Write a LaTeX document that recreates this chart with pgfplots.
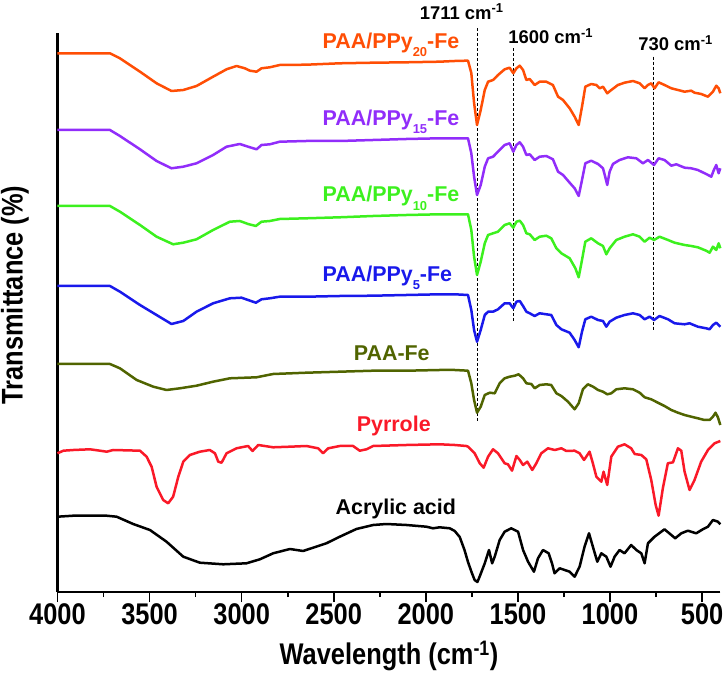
\documentclass[border=0pt]{standalone}
\usepackage{fontspec}
\setmainfont{Liberation Sans}
\newfontfamily\axfont[FakeStretch=0.85]{Liberation Sans}
\usepackage{pgfplots}
\pgfplotsset{compat=1.18}
\definecolor{cOr}{RGB}{255,78,5}
\definecolor{cPu}{RGB}{145,45,250}
\definecolor{cGr}{RGB}{60,240,30}
\definecolor{cBl}{RGB}{25,25,235}
\definecolor{cOl}{RGB}{80,100,0}
\definecolor{cRe}{RGB}{250,25,40}
\newcommand\tickfont{\axfont\bfseries\fontsize{30}{31}\selectfont}
\newcommand\lblfont{\bfseries\fontsize{21.5}{23}\selectfont}
\newcommand\annfont{\bfseries\fontsize{18.5}{20}\selectfont}
\newcommand\lsub[1]{\raisebox{-8.5bp}{\fontsize{13}{13}\selectfont #1}}
\begin{document}
\begin{tikzpicture}
\path[use as bounding box] (0,0) rectangle (727bp,676bp);
\begin{axis}[
  at={(57.5bp,84bp)}, anchor=south west,
  scale only axis, width=663bp, height=559bp,
  xmin=400, xmax=4000, ymin=0, ymax=559,
  x dir=reverse,
  axis x line=bottom, axis y line=none,
  x axis line style={-, line width=2.4bp},
  xtick={500,1000,...,4000},
  xticklabels={},
  minor xtick={750,1250,...,3750},
  ytick=\empty,
  tick align=outside,
  major tick length=10bp, minor tick length=5bp,
  every tick/.style={black, line width=1.6bp},
  clip=false,
  every axis plot/.append style={line width=2.5bp, line join=round},
]
\draw[line width=2.4bp] (axis description cs:0,0) -- (axis description cs:0,1);
\node[rotate=90, font=\tickfont] at (axis cs:4231,297) {Transmittance (\%)};
% x tick labels and x label
\node[anchor=north, inner sep=0pt, font=\tickfont] at (axis cs:500,-11) {500};
\node[anchor=north, inner sep=0pt, font=\tickfont] at (axis cs:1000,-11) {1000};
\node[anchor=north, inner sep=0pt, font=\tickfont] at (axis cs:1500,-11) {1500};
\node[anchor=north, inner sep=0pt, font=\tickfont] at (axis cs:2000,-11) {2000};
\node[anchor=north, inner sep=0pt, font=\tickfont] at (axis cs:2500,-11) {2500};
\node[anchor=north, inner sep=0pt, font=\tickfont] at (axis cs:3000,-11) {3000};
\node[anchor=north, inner sep=0pt, font=\tickfont] at (axis cs:3500,-11) {3500};
\node[anchor=north, inner sep=0pt, font=\tickfont] at (axis cs:4000,-11) {4000};
\node[anchor=north, inner sep=0pt, font=\tickfont] at (axis cs:2200,-49) {Wavelength (cm\textsuperscript{-1})};

% dashed guide lines
\addplot[black, line width=0.8bp, dash pattern=on 3bp off 2bp] coordinates {(1722,563.7) (1722,170.3)};
\addplot[black, line width=0.8bp, dash pattern=on 3bp off 2bp] coordinates {(1525,543.7) (1525,270.3)};
\addplot[black, line width=0.8bp, dash pattern=on 3bp off 2bp] coordinates {(762,535.3) (762,262)};

% PAA/PPy20-Fe
\addplot[cOr] coordinates {
(4000,538.7)(3715,538.7)(3661,533.7)(3552,520.3)(3462,508.7)(3381,501)(3317,502)(3245,506)(3155,515.3)(3082,522.7)(3028,526)(2983,523.7)(2955,521.3)(2919,520.3)(2892,523.7)(2847,524.7)(2793,527)(2648,527.3)(2467,528.7)(2286,529.3)(2105,529.7)(1925,530.3)(1843,531)(1780,531.3)(1771,531.3)
(1753,519)(1738,489)(1722,467)(1702,482)(1680,502)(1662,510.3)(1635,512)(1608,517)(1572,522.7)(1545,524.3)(1525,518.7)(1508,523.7)(1490,526.3)(1472,522)(1454,512)(1436,513)(1409,507)(1382,510.3)(1346,510.3)(1310,507)(1282,495.3)(1255,492)(1219,483.7)(1192,475.3)(1170,467)(1152,485.3)(1134,505.3)(1102,508)(1074,507)(1056,503.7)(1038,505.3)(1015,498.7)(993,502)(957,507)(921,509.3)(875,511)(839,508.7)(812,503.7)(794,507)(776,508.7)(758,503.7)(736,509.7)(704,507)(667,503.7)(631,502)(595,500.3)(559,501.3)(541,499.3)(505,498)(468,495.3)(441,500.3)(423,506.3)(410,503.7)(401,498.7)};

% PAA/PPy15-Fe
\addplot[cPu] coordinates {
(4000,462)(3715,462)(3661,456)(3552,442.7)(3462,431)(3381,423.7)(3317,425.3)(3245,428.7)(3155,437)(3082,445.3)(3010,448)(2965,445.3)(2919,442.7)(2892,447)(2847,447.7)(2793,450.3)(2648,451)(2467,451)(2286,452)(2105,453)(1925,453.7)(1843,453.7)(1771,453.7)
(1753,438.7)(1738,415.3)(1722,397)(1702,407)(1680,425.3)(1662,433.7)(1635,435.3)(1608,440.3)(1572,447)(1545,448.7)(1525,440.3)(1508,447)(1490,449.7)(1472,445.3)(1454,437)(1436,437.7)(1409,432)(1382,435.3)(1346,436)(1310,432.7)(1282,420.3)(1255,417)(1219,409.3)(1192,403.7)(1170,396)(1152,412)(1134,428.7)(1102,431.3)(1065,428)(1038,423.7)(1026,415.3)(1015,407)(1002,420.3)(984,428)(948,432)(903,434.7)(857,433.7)(821,428.7)(794,432)(761,427)(736,433.7)(704,432)(667,426.3)(640,427.7)(595,424.3)(559,423.7)(523,422)(478,418)(450,415.3)(436,422)(423,427)(410,418.7)(401,423.7)};

% PAA/PPy10-Fe
\addplot[cGr] coordinates {
(4000,386)(3715,386)(3661,380.3)(3552,367)(3462,355.3)(3372,347.7)(3317,349.3)(3245,352.7)(3155,362)(3064,370.3)(3010,371)(2965,368)(2923,366)(2892,370.3)(2847,371)(2793,373)(2648,373.7)(2467,374.7)(2286,376)(2105,377)(1925,377.7)(1843,377.7)(1771,377.7)
(1753,362)(1738,335.3)(1722,317)(1702,330.3)(1680,348.7)(1662,357)(1635,358.7)(1608,360.3)(1572,367)(1545,368.7)(1525,364.3)(1508,370.3)(1490,371.3)(1472,367)(1454,358.7)(1436,357.7)(1409,352)(1382,355.3)(1346,356.3)(1319,353.7)(1291,343.7)(1264,338.7)(1219,333.7)(1188,323.7)(1170,314.7)(1152,332)(1134,350.3)(1102,353.7)(1065,348.7)(1038,346)(1020,337.7)(1002,343.7)(966,352)(921,355.3)(875,357.7)(839,355.3)(812,350.3)(785,354.3)(761,352)(731,355.3)(685,352)(649,349.3)(595,347)(559,346)(523,344.7)(478,341.3)(459,339.3)(441,345.3)(423,342)(410,348.7)(401,343.7)};

% PAA/PPy5-Fe
\addplot[cBl] coordinates {
(4000,306)(3715,306)(3661,300.3)(3552,287)(3462,277)(3381,268)(3317,271)(3245,280.3)(3155,288.7)(3064,293.7)(3001,294.3)(2965,292)(2923,289.3)(2892,292.7)(2847,293.7)(2793,295.3)(2648,295.3)(2467,296)(2286,296.3)(2105,297)(1925,297.7)(1843,297.7)(1771,297)
(1753,282)(1738,262)(1722,250.3)(1702,262)(1680,277)(1662,280.3)(1635,280.3)(1608,282.7)(1572,288.7)(1545,288.7)(1525,283.7)(1508,290.3)(1490,291)(1472,286)(1454,280.3)(1436,278.7)(1409,276)(1382,278.7)(1346,277.7)(1319,277)(1291,267)(1264,262.7)(1219,259.3)(1192,252)(1170,244.7)(1152,260.3)(1134,272.7)(1102,275.3)(1065,272)(1038,271)(1020,265.3)(1002,270.3)(966,274.3)(921,277)(875,278.7)(839,277)(812,272.7)(785,275.3)(761,272)(731,276)(685,272.7)(649,268.7)(595,267.7)(568,268.7)(523,265.3)(478,263.7)(459,262.7)(441,267)(423,269.3)(401,265.3)};

% PAA-Fe
\addplot[cOl] coordinates {
(4000,228)(3715,228)(3661,223.7)(3570,212)(3480,205.3)(3408,202)(3335,203.7)(3245,206.3)(3155,210.3)(3064,213.7)(2919,214.7)(2829,218)(2648,219.3)(2467,220.3)(2286,221.3)(2105,221.3)(1925,222)(1843,222)(1771,221.3)
(1753,208.7)(1738,192)(1722,179.3)(1702,185.3)(1680,197)(1653,199.3)(1626,198.7)(1599,208.7)(1572,213.7)(1545,215.3)(1517,216.3)(1496,217.7)(1472,213.7)(1454,208.7)(1427,208)(1409,203.7)(1382,207)(1346,207.7)(1319,207)(1291,198.7)(1264,196)(1228,190.3)(1192,182.7)(1170,188.7)(1147,202.7)(1120,207.7)(1092,205.3)(1065,202)(1038,200.3)(1015,197.7)(993,198.7)(966,202.7)(921,203.7)(875,202.7)(839,199.3)(812,194.7)(776,192.7)(740,189.3)(704,186)(667,182)(631,179.3)(595,177)(559,175.3)(523,173.7)(487,172)(459,172)(441,175.3)(427,179.3)(414,174.7)(401,167)};

% Pyrrole
\addplot[cRe] coordinates {
(4000,138.7)(3968,141.3)(3914,142)(3824,142.7)(3769,141.3)(3733,140.3)(3697,142)(3552,141.3)(3516,135.3)(3489,125.3)(3462,105.3)(3426,92)(3399,88.7)(3372,95.3)(3344,115.3)(3317,130.3)(3281,137)(3227,140.3)(3173,142)(3145,138.7)(3127,130.3)(3109,129.3)(3082,138.7)(3028,143.7)(2965,146)(2941,141)(2910,147)(2829,144.7)(2738,145.3)(2648,146)(2585,143.7)(2558,138.7)(2530,143.7)(2467,146)(2395,146)(2359,141.3)(2322,142.7)(2286,146)(2105,147)(1925,147.7)(1843,147)(1780,146)
(1771,145.3)(1735,138.7)(1707,128.7)(1686,124.3)(1662,135.3)(1635,142.7)(1608,138.7)(1572,128.7)(1554,127.7)(1532,121.3)(1508,136)(1490,132)(1472,127)(1449,130.3)(1422,122)(1400,128.7)(1373,138.7)(1337,143.7)(1300,142)(1264,143.7)(1237,141)(1192,141.3)(1165,138.7)(1141,132)(1111,140.3)(1093,128.7)(1074,115.3)(1047,110.3)(1035,120.3)(1015,107)(993,135.3)(957,145.3)(921,147.7)(885,143.7)(866,138)(830,137)(803,132.7)(776,112)(752,87)(736,76.3)(713,103.7)(686,128.7)(658,129.7)(631,143.7)(613,141.3)(595,120.3)(568,102)(541,112)(505,130.3)(468,142)(432,148.7)(401,151)};

% Acrylic acid
\addplot[black] coordinates {
(4000,75.3)(3914,76.3)(3733,76.3)(3679,75.3)(3589,68)(3498,62)(3408,50.3)(3317,35.3)(3227,29.3)(3100,27.7)(2974,28.7)(2901,32.7)(2829,38.7)(2738,43)(2666,41)(2612,44.3)(2540,48.7)(2467,55.3)(2377,63)(2286,67)(2214,68)(2105,67)(1997,65.3)(1961,63.7)(1925,64.7)(1870,63.7)(1843,61)(1816,55)(1790,42)(1771,30)(1750,19)(1735,12)(1720,10)(1708,15.3)
(1680,28.7)(1657,42)(1640,28.7)(1626,35.3)(1599,52)(1572,60.3)(1536,63.7)(1499,60.3)(1472,42)(1445,30.3)(1413,20.3)(1391,33.7)(1364,42)(1333,38.7)(1315,28.7)(1301,18.7)(1273,23.7)(1246,22)(1219,20.3)(1192,15.3)(1165,25.3)(1138,45.3)(1114,58.7)(1093,45.3)(1069,30.3)(1047,38.7)(1020,35.3)(997,25.3)(975,35.3)(948,42)(921,38.7)(885,47)(857,42)(830,38.7)(812,28.7)(794,48.7)(758,55.3)(704,62.7)(667,57)(646,53.7)(613,58.7)(577,61.3)(532,58.7)(496,62.7)(468,65.3)(441,72)(414,70.3)(401,67.7)};

% curve labels
\node[anchor=base west, text=cOr, font=\lblfont, inner sep=0pt] at (axis cs:2561,543.5) {PAA/PPy\lsub{20}-Fe};
\node[anchor=base west, text=cPu, font=\lblfont, inner sep=0pt] at (axis cs:2561,466.5) {PAA/PPy\lsub{15}-Fe};
\node[anchor=base west, text=cGr, font=\lblfont, inner sep=0pt] at (axis cs:2561,390) {PAA/PPy\lsub{10}-Fe};
\node[anchor=base west, text=cBl, font=\lblfont, inner sep=0pt] at (axis cs:2561,310.5) {PAA/PPy\lsub{5}-Fe};
\node[anchor=base, text=cOl, font=\lblfont, inner sep=0pt] at (axis cs:2185,231.3) {PAA-Fe};
\node[anchor=base, text=cRe, font=\lblfont, inner sep=0pt] at (axis cs:2174,160.3) {Pyrrole};
\node[anchor=base, text=black, font=\lblfont, inner sep=0pt] at (axis cs:2163,77.7) {Acrylic acid};

% annotation labels
\node[font=\annfont, inner sep=0pt] at (axis cs:1805,580.3) {1711 cm\textsuperscript{-1}};
\node[font=\annfont, inner sep=0pt] at (axis cs:1322,556) {1600 cm\textsuperscript{-1}};
\node[font=\annfont, inner sep=0pt] at (axis cs:644,549) {730 cm\textsuperscript{-1}};
\end{axis}
\end{tikzpicture}
\end{document}
